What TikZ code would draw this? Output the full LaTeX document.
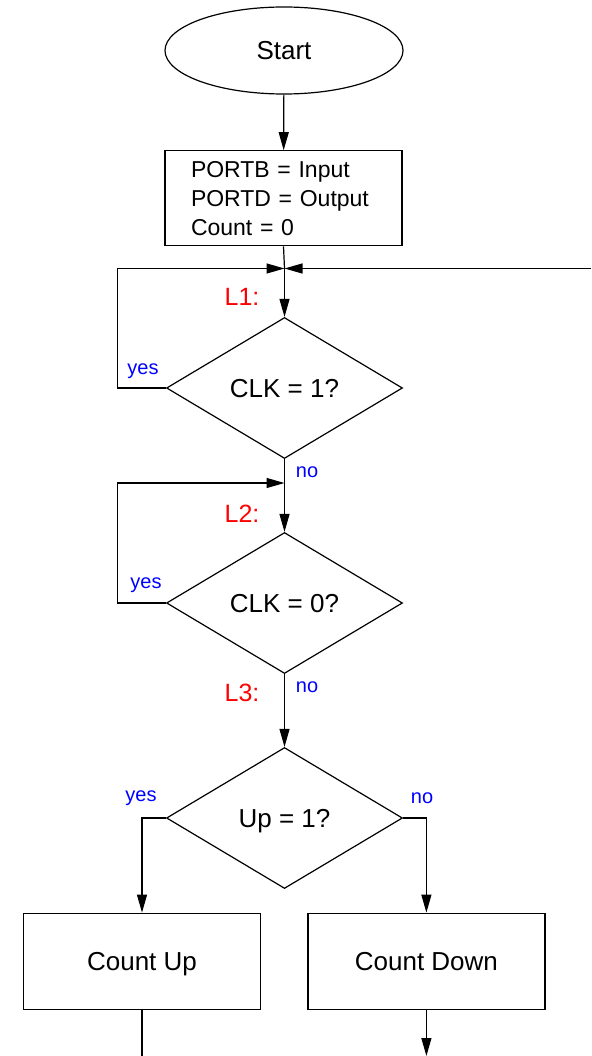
\documentclass[tikz,border=0pt]{standalone}
\usepackage{fontspec}
\setmainfont{Liberation Sans}
\usetikzlibrary{shapes.geometric,arrows.meta}

\tikzset{
  flow/.style={line width=1.2pt},
  arr/.style={flow,-{Triangle[length=18pt,width=10pt]}},
  % box the text by its capital height so that descenders do not shift it
  capcentre/.style={text height=18.7pt,text depth=0pt},
  termbox/.style={draw,line width=1.2pt,ellipse,inner sep=0pt,capcentre,
    minimum width=238pt,minimum height=87pt,font=\fontsize{26}{31}\selectfont},
  procbox/.style={draw,line width=1.2pt,rectangle,inner sep=0pt,capcentre,
    minimum width=237pt,minimum height=96pt,font=\fontsize{26}{31}\selectfont},
  initbox/.style={draw,line width=1.2pt,rectangle,inner xsep=26pt,inner ysep=0pt,
    text width=185pt,align=left,minimum height=95pt,
    font=\fontsize{23}{29}\selectfont},
  decision/.style={draw,line width=1.2pt,diamond,inner sep=0pt,capcentre,
    minimum width=236pt,minimum height=141pt,font=\fontsize{26}{31}\selectfont},
  answer/.style={text=blue,font=\fontsize{20}{24}\selectfont,inner sep=0pt},
  tag/.style={text=red,font=\fontsize{25}{30}\selectfont,inner sep=0pt},
}

\begin{document}
\begin{tikzpicture}[x=1pt,y=-1pt]
  \useasboundingbox (0,0) rectangle (591,1056);

  % blocks
  \node[termbox]  (start) at (284,50.5) {Start};
  \node[initbox]  (init)  at (283.5,198.3) {PORTB = Input\\PORTD = Output\\Count = 0};
  \node[decision] (d1)    at (284.5,388) {CLK = 1?};
  \node[decision] (d2)    at (284.5,603) {CLK = 0?};
  \node[decision] (d3)    at (284.5,818) {Up = 1?};
  \node[procbox]  (cup)   at (142,961.2) {Count Up};
  \node[procbox]  (cdown) at (426.4,961.2) {Count Down};

  % junctions and loose ends
  \coordinate (j1) at (284.5,268.5);
  \coordinate (j2) at (284.5,483);
  \coordinate (back) at (591,268.5);
  \coordinate (outL) at (142,1056);
  \coordinate (outR) at (426.4,1056);

  % labels
  \node[tag] (l1) at (242,297) {L1:};
  \node[tag] (l2) at (242,514) {L2:};
  \node[tag] (l3) at (242,693) {L3:};
  \node[answer] (y1) at (143,371) {yes};
  \node[answer] (n1) at (307,472) {no};
  \node[answer] (y2) at (146,585) {yes};
  \node[answer] (n2) at (307,687) {no};
  \node[answer] (y3) at (141,798) {yes};
  \node[answer] (n3) at (422,798) {no};

  % connectors
  \draw[arr] (start) -- (init);
  \draw[flow] (init.south) -- (j1);
  \draw[arr] (j1) -- (d1.north);
  \draw[arr] (d1.west) -- ++(-48.5,0) |- (j1);
  \draw[arr] (back) -- (j1);
  \draw[flow] (d1.south) -- (j2);
  \draw[arr] (j2) -- (d2.north);
  \draw[arr] (d2.west) -- ++(-48.5,0) |- (j2);
  \draw[arr] (d2.south) -- (d3.north);
  \draw[arr] (d3.west) -| (cup.north);
  \draw[arr] (d3.east) -| (cdown.north);
  \draw[flow] (cup.south) -- (outL);
  \draw[arr] (cdown.south) -- (outR);
\end{tikzpicture}
\end{document}
